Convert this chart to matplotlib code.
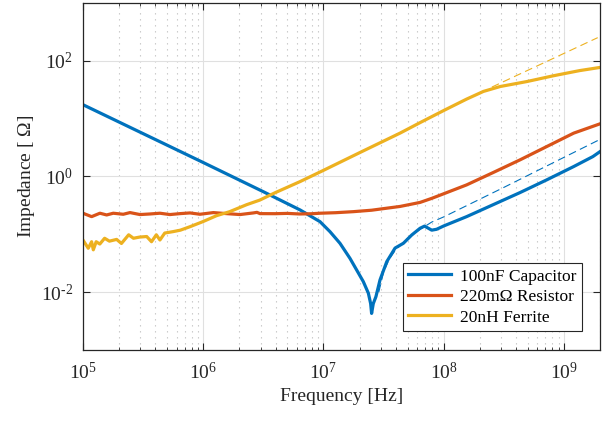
import numpy as np
import matplotlib
matplotlib.use("Agg")
import matplotlib.pyplot as plt
from matplotlib.ticker import LogLocator, NullLocator, NullFormatter

plt.rcParams['font.family'] = ['Liberation Serif', 'DejaVu Serif']
plt.rcParams['mathtext.fontset'] = 'custom'
plt.rcParams['mathtext.rm'] = 'Liberation Serif'
plt.rcParams['mathtext.it'] = 'Liberation Serif:italic'

# values, as log10(frequency [Hz]) / log10(impedance [Ohm])
cap_logf = [5.0, 5.5, 6.0, 6.5, 6.805, 6.971, 7.054, 7.137, 7.22, 7.276, 7.331,
            7.373, 7.392, 7.40, 7.414, 7.436, 7.47, 7.526, 7.595, 7.664, 7.734,
            7.803, 7.84, 7.9, 7.94, 8.0, 8.19, 8.41, 8.634, 8.856, 9.08, 9.24, 9.30]
cap_logz = [1.24, 0.74, 0.24, -0.265, -0.58, -0.783, -0.956, -1.157, -1.417, -1.62, -1.82,
            -2.02, -2.2, -2.37, -2.2, -2.08, -1.79, -1.475, -1.24, -1.157, -1.013,
            -0.897, -0.86, -0.93, -0.915, -0.857, -0.696, -0.49, -0.28, -0.06, 0.17, 0.343, 0.43]

res_logf = [5.0, 5.072, 5.141, 5.197, 5.252, 5.335, 5.391, 5.474, 5.557, 5.64, 5.723,
            5.807, 5.89, 5.973, 6.084, 6.195, 6.306, 6.416, 6.447, 6.472, 6.6, 6.7,
            6.8, 6.9, 6.971, 7.1, 7.248, 7.4, 7.526, 7.636, 7.72, 7.803, 7.9, 8.0,
            8.19, 8.41, 8.634, 8.856, 9.08, 9.30]
res_logz = [-0.637, -0.696, -0.637, -0.667, -0.637, -0.655, -0.626, -0.66, -0.65, -0.637, -0.66,
            -0.644, -0.632, -0.655, -0.626, -0.644, -0.66, -0.632, -0.622, -0.644, -0.645, -0.64,
            -0.65, -0.646, -0.637, -0.628, -0.61, -0.585, -0.55, -0.52, -0.485, -0.45, -0.38, -0.30,
            -0.147, 0.066, 0.286, 0.516, 0.748, 0.91]

fer_logf = [5.0, 5.044, 5.072, 5.086, 5.11, 5.14, 5.18, 5.22, 5.28, 5.32, 5.38, 5.42,
            5.47, 5.53, 5.57, 5.61, 5.64, 5.68, 5.75, 5.81, 5.89, 6.0, 6.11, 6.22,
            6.36, 6.47, 6.6, 6.805, 7.0, 7.3, 7.636, 7.803, 8.0, 8.19, 8.33, 8.47,
            8.69, 8.91, 9.13, 9.30]
fer_logz = [-1.10, -1.243, -1.13, -1.27, -1.13, -1.17, -1.07, -1.12, -1.09, -1.16, -1.01, -1.07,
            -1.05, -1.04, -1.13, -1.01, -1.10, -0.98, -0.955, -0.93, -0.87, -0.78, -0.68, -0.61,
            -0.49, -0.41, -0.28, -0.09, 0.105, 0.41, 0.748, 0.93, 1.14, 1.337, 1.47, 1.555,
            1.64, 1.74, 1.83, 1.885]

# dashed model lines
cap_model_logf = [7.46, 7.5, 7.55, 7.6, 7.7, 7.8, 7.9, 8.0, 8.5, 9.0, 9.28]
cap_model_logz = [-2.0, -1.65, -1.42, -1.27, -1.07, -0.92, -0.79, -0.70, -0.19, 0.33, 0.62]
fer_model_logf = [8.40, 9.28]
fer_model_logz = [1.545, 2.40]

labels = ['100nF Capacitor', '220m\u03a9 Resistor', '20nH Ferrite']
colors = ['#0072BD', '#D95319', '#EDB120']
yticks = [1e-2, 1e0, 1e2]
ytick_labels = ['$10^{\\text{-}2}$', '$10^{0}$', '$10^{2}$']


def pw(v):
    return 10.0 ** np.asarray(v)


fig = plt.figure(figsize=(6.1, 4.22), dpi=100)
ax = fig.add_axes([0.136, 0.171, 0.848, 0.822])

ax.plot(pw(cap_logf), pw(cap_logz), color=colors[0], lw=2.3, label=labels[0])
ax.plot(pw(res_logf), pw(res_logz), color=colors[1], lw=2.3, label=labels[1])
ax.plot(pw(fer_logf), pw(fer_logz), color=colors[2], lw=2.3, label=labels[2])
ax.plot(pw(cap_model_logf), pw(cap_model_logz), color=colors[0], lw=0.8,
        dashes=(7, 4))
ax.plot(pw(fer_model_logf), pw(fer_model_logz), color=colors[2], lw=0.8,
        dashes=(7, 4))

ax.set_xscale('log')
ax.set_yscale('log')
ax.set_xlim(1e5, 2e9)
ax.set_ylim(1e-3, 1e3)

ax.xaxis.set_major_locator(LogLocator(base=10, numticks=10))
ax.xaxis.set_minor_locator(LogLocator(base=10, subs=np.arange(2, 10), numticks=20))
ax.xaxis.set_minor_formatter(NullFormatter())
ax.set_yticks(yticks)
ax.set_yticklabels(ytick_labels)
ax.yaxis.set_minor_locator(NullLocator())

ax.grid(True, which='major', color='#e0e0e0', lw=0.8, ls='-')
ax.grid(True, which='minor', axis='x', color='#c4c4c4', lw=0.8, ls=(0, (1.2, 4.2)))
ax.set_axisbelow(True)

for s in ax.spines.values():
    s.set_color('#262626')
    s.set_linewidth(0.9)
ax.tick_params(which='both', direction='in', top=True, right=True,
               colors='#262626', labelsize=14)
ax.tick_params(axis='x', pad=9)
ax.tick_params(axis='y', pad=7)
ax.tick_params(which='major', length=5)
ax.tick_params(which='minor', length=2.5)

ax.set_xlabel('Frequency [Hz]', fontsize=14, color='#262626', labelpad=3)
ax.set_ylabel('Impedance [ $\\mathit{\\Omega}$]', fontsize=14, color='#262626',
              labelpad=3)

leg = ax.legend(loc='lower right', bbox_to_anchor=(0.964, 0.055), fontsize=12.5,
                fancybox=False, framealpha=1, edgecolor='#262626',
                handlelength=2.5, borderpad=0.3, labelspacing=0.25,
                handletextpad=0.5, borderaxespad=0)
leg.get_frame().set_linewidth(0.8)

fig.savefig('out.png', dpi=100)
